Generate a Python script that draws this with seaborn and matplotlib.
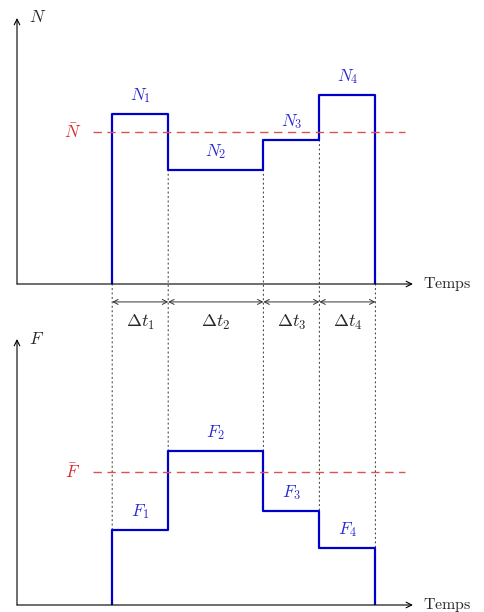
import matplotlib
matplotlib.use('Agg')

import seaborn as sns
import matplotlib.pyplot as plt
import pandas as pd
from matplotlib.patches import ConnectionPatch

# données (unités arbitraires)
t_bords = [1.7, 2.7, 4.4, 5.4, 6.4]
N_vals = [3.04, 2.04, 2.57, 3.38]
F_vals = [1.34, 2.75, 1.68, 1.02]
N_moy = 2.71
F_moy = 2.37
N_noms = [r'$N_1$', r'$N_2$', r'$N_3$', r'$N_4$']
F_noms = [r'$F_1$', r'$F_2$', r'$F_3$', r'$F_4$']
dt_noms = [r'$\Delta t_1$', r'$\Delta t_2$', r'$\Delta t_3$', r'$\Delta t_4$']

sns.set_style('white')
plt.rcParams['mathtext.fontset'] = 'cm'
plt.rcParams['font.family'] = ['DejaVu Serif']

BLEU = '#0000cc'
BLEU_TXT = '#2a2ad0'
ROUGE = '#d9534f'
ROUGE_TXT = '#d42a2a'

W, H = 485, 612
px = 56.0          # pixels par unité
xmax, ymax = 7.1, 4.75

fig = plt.figure(figsize=(W / 100, H / 100), dpi=100)
ax1 = fig.add_axes([17 / W, (H - 284) / H, xmax * px / W, ymax * px / H])
ax2 = fig.add_axes([17 / W, (H - 605) / H, xmax * px / W, ymax * px / H])


def escalier(ax, vals):
    df = pd.DataFrame({'t': [t_bords[0]] + t_bords,
                       'v': [0] + vals + [0]})
    sns.lineplot(data=df, x='t', y='v', ax=ax, estimator=None, sort=False,
                 drawstyle='steps-post', color=BLEU, lw=1.6)


def panneau(ax, vals, noms, moy, nom_moy, nom_axe):
    escalier(ax, vals)
    ax.set_xlim(0, xmax)
    ax.set_ylim(0, ymax)
    ax.axis('off')
    # axes fléchés
    ax.annotate('', xy=(7.07, 0), xytext=(0, 0), annotation_clip=False,
                arrowprops=dict(arrowstyle='->', lw=0.8, color='black',
                                shrinkA=0, shrinkB=0))
    ax.annotate('', xy=(0, ymax), xytext=(0, 0), annotation_clip=False,
                arrowprops=dict(arrowstyle='->', lw=0.8, color='black',
                                shrinkA=0, shrinkB=0))
    ax.text(7.25, 0, r'$\mathrm{Temps}$', fontsize=11.5, ha='left', va='center',
            clip_on=False)
    ax.text(0.22, ymax, nom_axe, fontsize=12.5, ha='left', va='center')
    # moyenne
    ax.plot([1.36, 6.93], [moy, moy], ls=(0, (6, 4)), color=ROUGE, lw=1.0)
    ax.text(1.0, moy, nom_moy, color=ROUGE_TXT, fontsize=12.5, ha='center',
            va='center')
    # étiquettes
    for i, (v, nom) in enumerate(zip(vals, noms)):
        xm = (t_bords[i] + t_bords[i + 1]) / 2
        ax.text(xm, v + 0.33, nom, color=BLEU_TXT, fontsize=12.5,
                ha='center', va='center')


panneau(ax1, N_vals, N_noms, N_moy, r'$\bar{N}$', r'$N$')
panneau(ax2, F_vals, F_noms, F_moy, r'$\bar{F}$', r'$F$')

# intervalles de temps
for i, nom in enumerate(dt_noms):
    ax1.annotate('', xy=(t_bords[i + 1], -0.32), xytext=(t_bords[i], -0.32),
                 annotation_clip=False,
                 arrowprops=dict(arrowstyle='<->,head_length=0.35,head_width=0.18',
                                 lw=0.7, color='#333333', shrinkA=0, shrinkB=0))
    ax1.text((t_bords[i] + t_bords[i + 1]) / 2, -0.68, nom, fontsize=13,
             ha='center', va='center', clip_on=False)

# pointillés entre les deux graphes
N_pad = [0] + N_vals + [0]
F_pad = [0] + F_vals + [0]
for i, t in enumerate(t_bords):
    haut = min(N_pad[i], N_pad[i + 1])
    bas = max(F_pad[i], F_pad[i + 1])
    con = ConnectionPatch(xyA=(t, haut), coordsA=ax1.transData,
                          xyB=(t, bas), coordsB=ax2.transData,
                          linestyle=(0, (1, 3)), lw=0.8, color='#444444',
                          zorder=0)
    fig.add_artist(con)

fig.savefig('out.png', dpi=100)
